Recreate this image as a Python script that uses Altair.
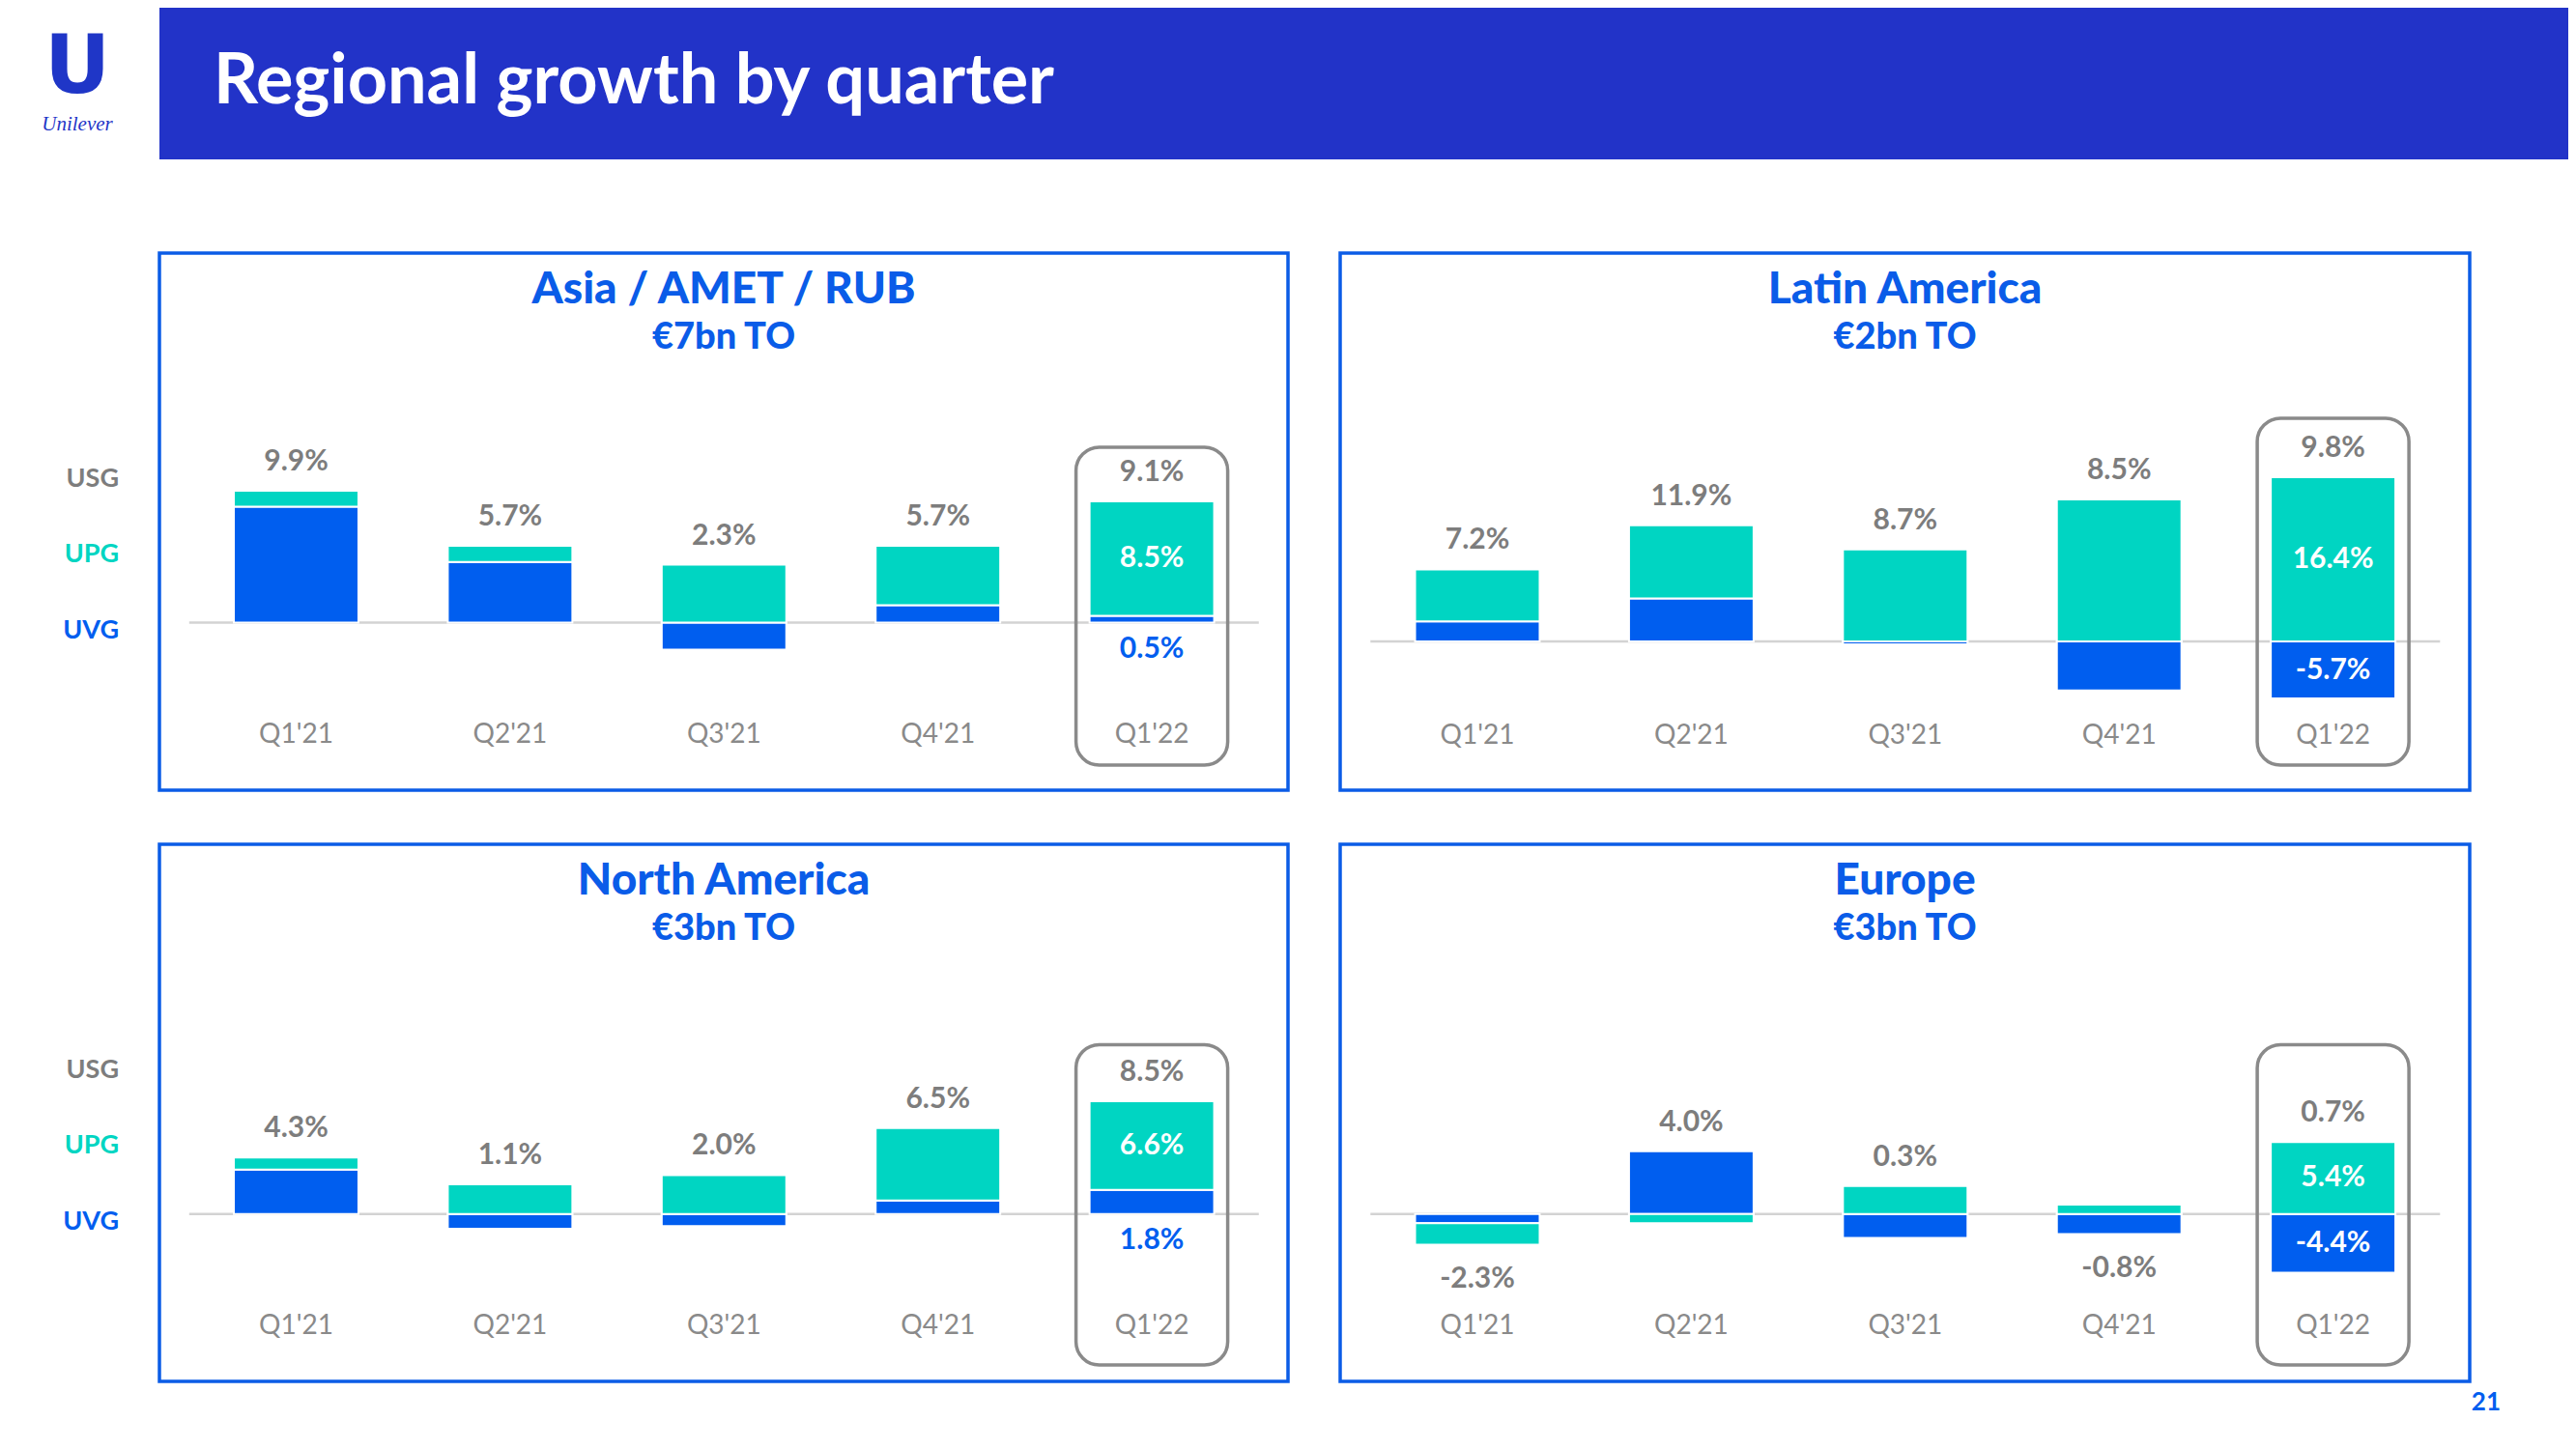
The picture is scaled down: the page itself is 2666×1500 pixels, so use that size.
import altair as alt
import pandas as pd

# ---------------- data ----------------
quarters = ["Q1'21", "Q2'21", "Q3'21", "Q4'21", "Q1'22"]
regions = ["Asia / AMET / RUB", "Latin America", "North America", "Europe"]
turnover = ["€7bn TO", "€2bn TO", "€3bn TO", "€3bn TO"]
measures = ["UVG", "UPG"]

usg_asia = [9.9, 5.7, 2.3, 5.7, 9.1]
uvg_asia = [8.6, 4.5, -2.0, 1.3, 0.5]
upg_asia = [1.2, 1.2, 4.3, 4.4, 8.5]

usg_latam = [7.2, 11.9, 8.7, 8.5, 9.8]
uvg_latam = [2.0, 4.3, -0.3, -4.9, -5.7]
upg_latam = [5.2, 7.3, 9.2, 14.2, 16.4]

usg_na = [4.3, 1.1, 2.0, 6.5, 8.5]
uvg_na = [3.3, -1.1, -0.9, 1.0, 1.8]
upg_na = [0.9, 2.2, 2.9, 5.4, 6.6]

usg_eu = [-2.3, 4.0, 0.3, -0.8, 0.7]
uvg_eu = [-0.7, 4.7, -1.8, -1.5, -4.4]
upg_eu = [-1.6, -0.7, 2.1, 0.7, 5.4]

series = {
    "Asia / AMET / RUB": (usg_asia, uvg_asia, upg_asia),
    "Latin America": (usg_latam, uvg_latam, upg_latam),
    "North America": (usg_na, uvg_na, upg_na),
    "Europe": (usg_eu, uvg_eu, upg_eu),
}

# ---------------- style ----------------
BLUE = "#005EEF"
TEAL = "#00D5C2"
GRAY = "#7D7D7D"
XGRAY = "#8A8A8A"
HEADER = "#2233C8"
FRAME = "#0B5CE6"
TITLE = "#0A5CE8"
FONT = "Lato"

OFF = 8  # page margin
W, H = 2650, 1484

# layout of the panels (page pixels)
geo = {
    "Asia / AMET / RUB": dict(left=165, right=1333, top=262, bottom=818, x0=195.8, x1=1302.8,
                              base=644.5, k=13.94, box_top=463, box_bottom=792, qlab=761),
    "Latin America": dict(left=1387, right=2556, top=262, bottom=818, x0=1418.3, x1=2525.3,
                          base=664, k=10.36, box_top=433, box_bottom=792, qlab=762),
    "North America": dict(left=165, right=1333, top=874, bottom=1430, x0=195.8, x1=1302.8,
                          base=1256.7, k=13.9, box_top=1081.5, box_bottom=1413, qlab=1373),
    "Europe": dict(left=1387, right=2556, top=874, bottom=1430, x0=1418.3, x1=2525.3,
                   base=1256.7, k=13.8, box_top=1081.5, box_bottom=1413, qlab=1373),
}

# ---------------- tables ----------------
bar_rows, lab_rows = [], []
for r in regions:
    us, uv, up = series[r]
    for i, q in enumerate(quarters):
        bar_rows.append(dict(region=r, quarter=q, measure="UVG", value=uv[i], ord=0))
        bar_rows.append(dict(region=r, quarter=q, measure="UPG", value=up[i], ord=1))
        pos = max(uv[i], 0) + max(up[i], 0)
        neg = min(uv[i], 0) + min(up[i], 0)
        if up[i] >= 0:
            upg_mid = max(uv[i], 0) + up[i] / 2
        else:
            upg_mid = min(uv[i], 0) + up[i] / 2
        lab_rows.append(dict(
            region=r, quarter=q, usg=us[i],
            usg_label=f"{us[i]:.1f}%",
            anchor=pos if us[i] >= 0 else neg,
            sign="pos" if us[i] >= 0 else "neg",
            last=(q == quarters[-1]),
            upg_label=f"{up[i]:.1f}%", upg_mid=upg_mid,
            uvg_label=f"{uv[i]:.1f}%", uvg_mid=uv[i] / 2,
            uvg_inside=abs(uv[i]) >= 3,
        ))
bars_df = pd.DataFrame(bar_rows)
labs_df = pd.DataFrame(lab_rows)
one = pd.DataFrame({"a": [0]})

color_scale = alt.Scale(domain=measures, range=[BLUE, TEAL])

layers = []

# ---------------- header ----------------
layers.append(alt.Chart(one).mark_rect(color=HEADER).encode(
    x=alt.value(165 - OFF), x2=alt.value(W), y=alt.value(0), y2=alt.value(165 - OFF)))
layers.append(alt.Chart(one).mark_text(
    text="Regional growth by quarter", font=FONT, fontWeight="bold", fontSize=72,
    color="white", align="left", baseline="alphabetic").encode(
    x=alt.value(221 - OFF), y=alt.value(107 - OFF)))
# logo approximation
layers.append(alt.Chart(one).mark_text(
    text="U", font="DejaVu Sans", fontWeight="bold", fontSize=84,
    color="#1F36C7", align="center", baseline="alphabetic").encode(
    x=alt.value(80 - OFF), y=alt.value(96 - OFF)))
layers.append(alt.Chart(one).mark_text(
    text="Unilever", font="Liberation Serif", fontStyle="italic", fontSize=21,
    color="#1F36C7", align="center", baseline="top").encode(
    x=alt.value(80 - OFF), y=alt.value(118 - OFF)))

# left legend words
for yy, (txt, col) in zip([496, 574, 653], [("USG", GRAY), ("UPG", TEAL), ("UVG", BLUE)]):
    for dy in (0, 612):
        layers.append(alt.Chart(one).mark_text(
            text=txt, font=FONT, fontWeight="bold", fontSize=27, color=col,
            align="right", baseline="middle").encode(
            x=alt.value(123 - OFF), y=alt.value(yy + dy - OFF)))

# page number
layers.append(alt.Chart(one).mark_text(
    text="21", font=FONT, fontWeight="bold", fontSize=26, color=BLUE,
    align="right", baseline="middle").encode(
    x=alt.value(2588 - OFF), y=alt.value(1452 - OFF)))

# ---------------- panels ----------------
for r, to in zip(regions, turnover):
    g = geo[r]
    xs = alt.Scale(domain=quarters, range=[g["x0"] - OFF, g["x1"] - OFF],
                   paddingInner=0.4176, paddingOuter=0.2088)
    ys = alt.Scale(domain=[-20, 20], nice=False, zero=False,
                   range=[g["base"] + 20 * g["k"] - OFF, g["base"] - 20 * g["k"] - OFF])
    X = alt.X("quarter:N", scale=xs, axis=None)

    # frame
    layers.append(alt.Chart(one).mark_rect(fillOpacity=0, stroke=FRAME, strokeWidth=3.5).encode(
        x=alt.value(g["left"] - OFF), x2=alt.value(g["right"] - OFF),
        y=alt.value(g["top"] - OFF), y2=alt.value(g["bottom"] - OFF)))
    cx = (g["left"] + g["right"]) / 2 - OFF
    layers.append(alt.Chart(one).mark_text(
        text=r, font=FONT, fontWeight=900, fontSize=46, color=TITLE,
        align="center", baseline="middle").encode(
        x=alt.value(cx), y=alt.value(g["top"] + 38 - OFF)))
    layers.append(alt.Chart(one).mark_text(
        text=to, font=FONT, fontWeight=900, fontSize=38, color=TITLE,
        align="center", baseline="middle").encode(
        x=alt.value(cx), y=alt.value(g["top"] + 88 - OFF)))

    # zero line
    layers.append(alt.Chart(one).mark_rule(color="#D3D3D3", strokeWidth=2.5).encode(
        x=alt.value(g["x0"] - OFF), x2=alt.value(g["x1"] - OFF),
        y=alt.YDatum(0, scale=ys, axis=None, type="quantitative")))

    # stacked bars
    layers.append(alt.Chart(bars_df).transform_filter(alt.datum.region == r).mark_bar(
        stroke="white", strokeWidth=2).encode(
        x=X,
        y=alt.Y("value:Q", scale=ys, axis=None, stack="zero"),
        color=alt.Color("measure:N", scale=color_scale, legend=None),
        order=alt.Order("ord:Q"),
    ))

    # highlight box around the latest quarter
    layers.append(alt.Chart(labs_df).transform_filter(
        (alt.datum.region == r) & alt.datum.last).mark_bar(
        width=157, cornerRadius=24, fillOpacity=0, stroke="#8A8A8A", strokeWidth=3.5).encode(
        x=X, y=alt.value(g["box_top"] - OFF), y2=alt.value(g["box_bottom"] - OFF)))

    # quarter labels
    layers.append(alt.Chart(labs_df).transform_filter(alt.datum.region == r).mark_text(
        font=FONT, fontSize=28, color=XGRAY, baseline="middle").encode(
        x=X, y=alt.value(g["qlab"] - OFF), text="quarter:N"))

    # USG labels
    base_lab = alt.Chart(labs_df).transform_filter(alt.datum.region == r)
    layers.append(base_lab.transform_filter(alt.datum.sign == "pos").mark_text(
        font=FONT, fontWeight="bold", fontSize=30, color=GRAY, baseline="middle", dy=-30).encode(
        x=X, y=alt.Y("anchor:Q", scale=ys, axis=None), text="usg_label:N"))
    layers.append(base_lab.transform_filter(alt.datum.sign == "neg").mark_text(
        font=FONT, fontWeight="bold", fontSize=30, color=GRAY, baseline="middle", dy=36).encode(
        x=X, y=alt.Y("anchor:Q", scale=ys, axis=None), text="usg_label:N"))

    # latest quarter component labels
    last = base_lab.transform_filter(alt.datum.last)
    layers.append(last.mark_text(
        font=FONT, fontWeight="bold", fontSize=30, color="white", baseline="middle").encode(
        x=X, y=alt.Y("upg_mid:Q", scale=ys, axis=None), text="upg_label:N"))
    layers.append(last.transform_filter(alt.datum.uvg_inside).mark_text(
        font=FONT, fontWeight="bold", fontSize=30, color="white", baseline="middle").encode(
        x=X, y=alt.Y("uvg_mid:Q", scale=ys, axis=None), text="uvg_label:N"))
    layers.append(last.transform_filter(~alt.datum.uvg_inside).mark_text(
        font=FONT, fontWeight="bold", fontSize=30, color=BLUE, baseline="middle", dy=27).encode(
        x=X, y=alt.YDatum(0, scale=ys, axis=None, type="quantitative"), text="uvg_label:N"))

chart = alt.layer(*layers).resolve_scale(x="independent", y="independent").properties(
    width=W, height=H, autosize=alt.AutoSizeParams(type="none"), padding=0,
).configure_view(stroke=None)

chart.save("out.html", embed_options={"renderer": "svg", "actions": False})
